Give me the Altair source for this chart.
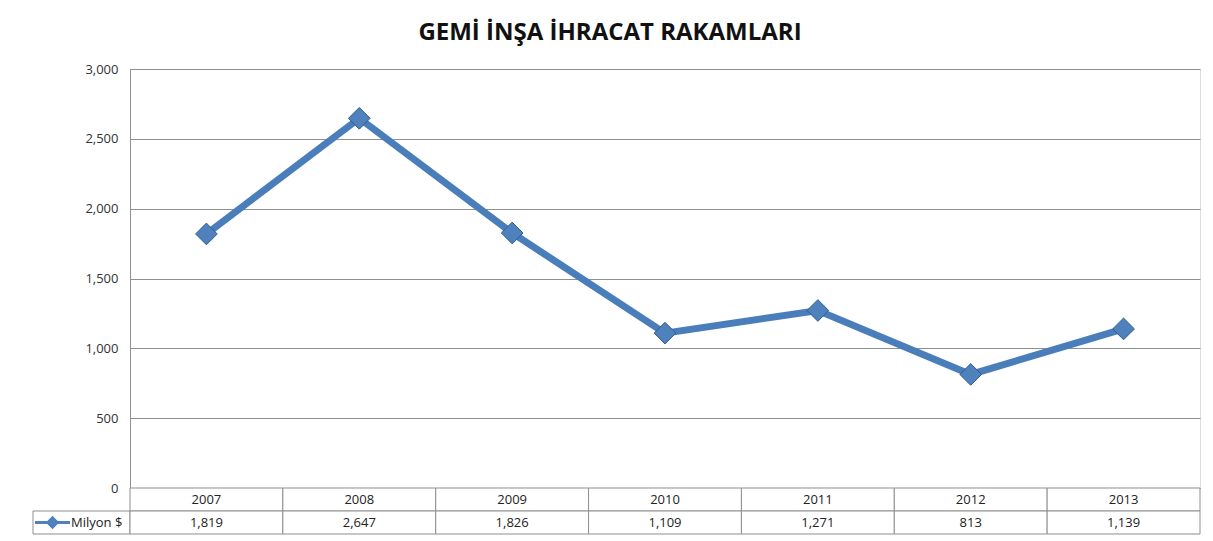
import altair as alt
import pandas as pd

years = ["2007", "2008", "2009", "2010", "2011", "2012", "2013"]
values = [1819, 2647, 1826, 1109, 1271, 813, 1139]
series_name = "Milyon $"
title_text = "GEMİ İNŞA İHRACAT RAKAMLARI"
y_ticks = [0, 500, 1000, 1500, 2000, 2500, 3000]

FONT = "Open Sans"
GRID = "#8f8f8f"
BLUE = "#4A7EBB"
W, H = 1070, 419
ROW = 23

df = pd.DataFrame({"year": years, "value": values, "series": [series_name] * len(years)})

xscale = alt.Scale(type="band", domain=years, paddingInner=0, paddingOuter=0)
yscale = alt.Scale(domain=[0, 3000], nice=False)

base = alt.Chart(df).encode(x=alt.X("year:O", scale=xscale, axis=None))

line = base.mark_line(color=BLUE, strokeWidth=7).encode(
    y=alt.Y("value:Q", scale=yscale,
            axis=alt.Axis(values=y_ticks, labelExpr="format(datum.value, ',.0f')",
                          grid=True, gridColor=GRID,
                          gridWidth=1, domain=True, domainColor=GRID, ticks=False,
                          labelPadding=12, labelFont=FONT, labelFontSize=13,
                          labelColor="#333333", title=None))
)

points = base.mark_point(shape="diamond", filled=True, size=470, opacity=1,
                         stroke="#2f5d8f", strokeWidth=1).encode(
    y=alt.Y("value:Q", scale=yscale, axis=None),
    color=alt.Color("series:N", scale=alt.Scale(range=["#4F81BD"]),
                    legend=alt.Legend(orient="none", legendX=-95, legendY=H + ROW + 11.5 - 17.5,
                                      padding=0, title=None, labelFont=FONT, labelFontSize=13,
                                      labelColor="#222222",
                                      symbolType="M-1,-0.09H1V0.09H-1Z M0,-0.38L0.38,0L0,0.38L-0.38,0Z",
                                      symbolSize=1225, symbolStrokeWidth=0,
                                      labelOffset=1))
)

# table below the plot
rows = []
for yr, v in zip(years, values):
    rows.append({"year": yr, "row": "a", "label": yr})
    rows.append({"year": yr, "row": "b", "label": f"{v:,}"})
tdf = pd.DataFrame(rows)

rowscale = alt.Scale(type="band", domain=["a", "b"], range=[H, H + 2 * ROW],
                     paddingInner=0, paddingOuter=0)

tbase = alt.Chart(tdf).encode(
    x=alt.X("year:O", scale=xscale, axis=None),
    y=alt.Y("row:O", scale=rowscale, axis=None),
)
cells = tbase.mark_rect(fill="white", stroke=GRID, strokeWidth=1)
texts = tbase.mark_text(font=FONT, fontSize=13, color="#222222", baseline="middle").encode(
    text="label:N")

legend_cell = alt.Chart(pd.DataFrame({"row": ["b"]})).mark_rect(
    fill="white", stroke=GRID, strokeWidth=1).encode(
    x=alt.value(-97), x2=alt.value(0),
    y=alt.Y("row:O", scale=rowscale, axis=None),
)

chart = alt.layer(legend_cell, cells, line, points, texts).resolve_scale(
    y="independent"
).properties(
    width=W, height=H,
    title=alt.Title(title_text, font=FONT, fontSize=24, fontWeight="bold",
                    color="#111111", anchor="middle", dx=-55, offset=18),
    autosize=alt.AutoSizeParams(type="none"),
    padding={"left": 122, "top": 61, "right": 5, "bottom": 52},
).configure_view(stroke=None).configure(background="white")

chart.save("out.html", embed_options={"renderer": "svg", "actions": False})
